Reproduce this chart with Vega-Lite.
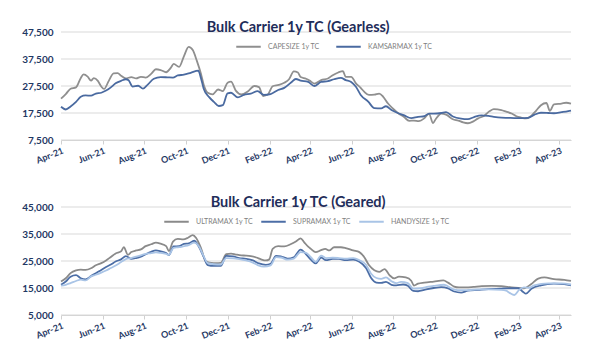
{
"$schema": "https://vega.github.io/schema/vega-lite/v6.json",
"background": "white",
"padding": {"left": 21, "top": 20, "right": 30, "bottom": 4},
"spacing": 29,
"config": {
 "font": "Lato",
 "view": {"stroke": null},
 "axis": {"labelFont": "Lato", "labelColor": "#1f3864", "labelFontWeight": "bold", "title": null},
 "axisY": {"domain": false, "ticks": false, "grid": false, "labelFontSize": 10, "labelPadding": 8},
 "axisX": {"grid": false, "domainColor": "#d0d0d0", "tickColor": "#d0d0d0", "tickSize": 4, "labelFontSize": 9, "labelAngle": -22, "labelPadding": 2},
 "title": {"font": "Lato", "fontSize": 14.5, "fontWeight": "bold", "color": "#1f2d5a", "anchor": "middle", "frame": "bounds", "offset": -8.5},
 "legend": {"orient": "none", "direction": "horizontal", "title": null, "symbolType": "stroke", "symbolSize": 600, "symbolStrokeWidth": 2, "labelFontSize": 7, "labelColor": "#7f7f7f", "labelFont": "Lato", "columnPadding": 12, "labelOffset": 6}
},
"resolve": {"scale": {"color": "independent"}, "legend": {"color": "independent"}},
"datasets": {
"gridTop": [{"value": 7500}, {"value": 17500}, {"value": 27500}, {"value": 37500}, {"value": 47500}],
"gridBottom": [{"value": 5000}, {"value": 15000}, {"value": 25000}, {"value": 35000}, {"value": 45000}],
"gearless": [
{"date":"2021-04-01","series":"CAPESIZE 1y TC","value":22800},
{"date":"2021-04-08","series":"CAPESIZE 1y TC","value":24500},
{"date":"2021-04-15","series":"CAPESIZE 1y TC","value":26500},
{"date":"2021-04-23","series":"CAPESIZE 1y TC","value":27000},
{"date":"2021-04-30","series":"CAPESIZE 1y TC","value":30500},
{"date":"2021-05-04","series":"CAPESIZE 1y TC","value":31800},
{"date":"2021-05-10","series":"CAPESIZE 1y TC","value":31000},
{"date":"2021-05-15","series":"CAPESIZE 1y TC","value":29500},
{"date":"2021-05-19","series":"CAPESIZE 1y TC","value":30400},
{"date":"2021-05-25","series":"CAPESIZE 1y TC","value":29400},
{"date":"2021-05-30","series":"CAPESIZE 1y TC","value":27300},
{"date":"2021-06-03","series":"CAPESIZE 1y TC","value":26400},
{"date":"2021-06-10","series":"CAPESIZE 1y TC","value":29400},
{"date":"2021-06-17","series":"CAPESIZE 1y TC","value":32200},
{"date":"2021-06-23","series":"CAPESIZE 1y TC","value":32300},
{"date":"2021-06-28","series":"CAPESIZE 1y TC","value":31300},
{"date":"2021-07-05","series":"CAPESIZE 1y TC","value":30300},
{"date":"2021-07-13","series":"CAPESIZE 1y TC","value":30800},
{"date":"2021-07-20","series":"CAPESIZE 1y TC","value":30300},
{"date":"2021-07-27","series":"CAPESIZE 1y TC","value":30900},
{"date":"2021-08-03","series":"CAPESIZE 1y TC","value":30600},
{"date":"2021-08-11","series":"CAPESIZE 1y TC","value":32000},
{"date":"2021-08-18","series":"CAPESIZE 1y TC","value":33700},
{"date":"2021-08-25","series":"CAPESIZE 1y TC","value":33400},
{"date":"2021-09-02","series":"CAPESIZE 1y TC","value":32600},
{"date":"2021-09-09","series":"CAPESIZE 1y TC","value":34300},
{"date":"2021-09-13","series":"CAPESIZE 1y TC","value":35700},
{"date":"2021-09-21","series":"CAPESIZE 1y TC","value":34600},
{"date":"2021-09-28","series":"CAPESIZE 1y TC","value":38500},
{"date":"2021-10-05","series":"CAPESIZE 1y TC","value":42000},
{"date":"2021-10-11","series":"CAPESIZE 1y TC","value":40800},
{"date":"2021-10-17","series":"CAPESIZE 1y TC","value":36800},
{"date":"2021-10-23","series":"CAPESIZE 1y TC","value":32000},
{"date":"2021-10-27","series":"CAPESIZE 1y TC","value":28000},
{"date":"2021-11-02","series":"CAPESIZE 1y TC","value":25000},
{"date":"2021-11-09","series":"CAPESIZE 1y TC","value":24400},
{"date":"2021-11-17","series":"CAPESIZE 1y TC","value":26200},
{"date":"2021-11-24","series":"CAPESIZE 1y TC","value":25600},
{"date":"2021-12-01","series":"CAPESIZE 1y TC","value":28700},
{"date":"2021-12-06","series":"CAPESIZE 1y TC","value":29100},
{"date":"2021-12-13","series":"CAPESIZE 1y TC","value":25800},
{"date":"2021-12-21","series":"CAPESIZE 1y TC","value":24400},
{"date":"2021-12-31","series":"CAPESIZE 1y TC","value":25600},
{"date":"2022-01-09","series":"CAPESIZE 1y TC","value":27500},
{"date":"2022-01-16","series":"CAPESIZE 1y TC","value":27100},
{"date":"2022-01-22","series":"CAPESIZE 1y TC","value":23800},
{"date":"2022-01-29","series":"CAPESIZE 1y TC","value":24400},
{"date":"2022-02-05","series":"CAPESIZE 1y TC","value":27400},
{"date":"2022-02-14","series":"CAPESIZE 1y TC","value":27900},
{"date":"2022-02-22","series":"CAPESIZE 1y TC","value":28700},
{"date":"2022-03-01","series":"CAPESIZE 1y TC","value":30000},
{"date":"2022-03-08","series":"CAPESIZE 1y TC","value":32900},
{"date":"2022-03-14","series":"CAPESIZE 1y TC","value":32500},
{"date":"2022-03-18","series":"CAPESIZE 1y TC","value":30800},
{"date":"2022-03-26","series":"CAPESIZE 1y TC","value":30200},
{"date":"2022-04-02","series":"CAPESIZE 1y TC","value":29200},
{"date":"2022-04-07","series":"CAPESIZE 1y TC","value":28400},
{"date":"2022-04-17","series":"CAPESIZE 1y TC","value":29700},
{"date":"2022-04-27","series":"CAPESIZE 1y TC","value":30300},
{"date":"2022-05-04","series":"CAPESIZE 1y TC","value":31500},
{"date":"2022-05-12","series":"CAPESIZE 1y TC","value":32500},
{"date":"2022-05-19","series":"CAPESIZE 1y TC","value":33000},
{"date":"2022-05-23","series":"CAPESIZE 1y TC","value":30900},
{"date":"2022-05-31","series":"CAPESIZE 1y TC","value":30900},
{"date":"2022-06-07","series":"CAPESIZE 1y TC","value":28500},
{"date":"2022-06-14","series":"CAPESIZE 1y TC","value":26800},
{"date":"2022-06-19","series":"CAPESIZE 1y TC","value":25400},
{"date":"2022-06-26","series":"CAPESIZE 1y TC","value":24200},
{"date":"2022-07-04","series":"CAPESIZE 1y TC","value":24300},
{"date":"2022-07-11","series":"CAPESIZE 1y TC","value":24700},
{"date":"2022-07-17","series":"CAPESIZE 1y TC","value":23500},
{"date":"2022-07-24","series":"CAPESIZE 1y TC","value":21000},
{"date":"2022-07-31","series":"CAPESIZE 1y TC","value":19200},
{"date":"2022-08-08","series":"CAPESIZE 1y TC","value":17400},
{"date":"2022-08-16","series":"CAPESIZE 1y TC","value":16100},
{"date":"2022-08-24","series":"CAPESIZE 1y TC","value":14600},
{"date":"2022-08-31","series":"CAPESIZE 1y TC","value":14700},
{"date":"2022-09-07","series":"CAPESIZE 1y TC","value":14500},
{"date":"2022-09-15","series":"CAPESIZE 1y TC","value":15500},
{"date":"2022-09-22","series":"CAPESIZE 1y TC","value":17200},
{"date":"2022-09-28","series":"CAPESIZE 1y TC","value":13800},
{"date":"2022-10-02","series":"CAPESIZE 1y TC","value":15300},
{"date":"2022-10-10","series":"CAPESIZE 1y TC","value":17300},
{"date":"2022-10-17","series":"CAPESIZE 1y TC","value":16900},
{"date":"2022-10-27","series":"CAPESIZE 1y TC","value":15200},
{"date":"2022-11-04","series":"CAPESIZE 1y TC","value":14700},
{"date":"2022-11-11","series":"CAPESIZE 1y TC","value":14000},
{"date":"2022-11-18","series":"CAPESIZE 1y TC","value":13700},
{"date":"2022-11-26","series":"CAPESIZE 1y TC","value":14400},
{"date":"2022-12-03","series":"CAPESIZE 1y TC","value":15500},
{"date":"2022-12-12","series":"CAPESIZE 1y TC","value":16500},
{"date":"2022-12-20","series":"CAPESIZE 1y TC","value":18200},
{"date":"2022-12-26","series":"CAPESIZE 1y TC","value":18900},
{"date":"2023-01-06","series":"CAPESIZE 1y TC","value":18600},
{"date":"2023-01-13","series":"CAPESIZE 1y TC","value":18000},
{"date":"2023-01-21","series":"CAPESIZE 1y TC","value":17300},
{"date":"2023-01-28","series":"CAPESIZE 1y TC","value":16300},
{"date":"2023-02-04","series":"CAPESIZE 1y TC","value":15800},
{"date":"2023-02-11","series":"CAPESIZE 1y TC","value":15500},
{"date":"2023-02-19","series":"CAPESIZE 1y TC","value":16500},
{"date":"2023-02-26","series":"CAPESIZE 1y TC","value":18400},
{"date":"2023-03-05","series":"CAPESIZE 1y TC","value":20400},
{"date":"2023-03-13","series":"CAPESIZE 1y TC","value":21200},
{"date":"2023-03-18","series":"CAPESIZE 1y TC","value":18300},
{"date":"2023-03-24","series":"CAPESIZE 1y TC","value":20700},
{"date":"2023-04-04","series":"CAPESIZE 1y TC","value":21000},
{"date":"2023-04-11","series":"CAPESIZE 1y TC","value":21300},
{"date":"2023-04-18","series":"CAPESIZE 1y TC","value":21000},
{"date":"2021-04-01","series":"KAMSARMAX 1y TC","value":19800},
{"date":"2021-04-08","series":"KAMSARMAX 1y TC","value":18800},
{"date":"2021-04-15","series":"KAMSARMAX 1y TC","value":19900},
{"date":"2021-04-23","series":"KAMSARMAX 1y TC","value":21600},
{"date":"2021-04-30","series":"KAMSARMAX 1y TC","value":23500},
{"date":"2021-05-07","series":"KAMSARMAX 1y TC","value":24000},
{"date":"2021-05-15","series":"KAMSARMAX 1y TC","value":23900},
{"date":"2021-05-22","series":"KAMSARMAX 1y TC","value":24700},
{"date":"2021-05-30","series":"KAMSARMAX 1y TC","value":25000},
{"date":"2021-06-06","series":"KAMSARMAX 1y TC","value":25800},
{"date":"2021-06-13","series":"KAMSARMAX 1y TC","value":27000},
{"date":"2021-06-20","series":"KAMSARMAX 1y TC","value":28500},
{"date":"2021-06-28","series":"KAMSARMAX 1y TC","value":29400},
{"date":"2021-07-05","series":"KAMSARMAX 1y TC","value":30000},
{"date":"2021-07-09","series":"KAMSARMAX 1y TC","value":29600},
{"date":"2021-07-15","series":"KAMSARMAX 1y TC","value":27300},
{"date":"2021-07-23","series":"KAMSARMAX 1y TC","value":27600},
{"date":"2021-07-30","series":"KAMSARMAX 1y TC","value":26500},
{"date":"2021-08-06","series":"KAMSARMAX 1y TC","value":28000},
{"date":"2021-08-15","series":"KAMSARMAX 1y TC","value":30200},
{"date":"2021-08-25","series":"KAMSARMAX 1y TC","value":30800},
{"date":"2021-09-04","series":"KAMSARMAX 1y TC","value":30700},
{"date":"2021-09-12","series":"KAMSARMAX 1y TC","value":30600},
{"date":"2021-09-19","series":"KAMSARMAX 1y TC","value":31400},
{"date":"2021-09-28","series":"KAMSARMAX 1y TC","value":31700},
{"date":"2021-10-08","series":"KAMSARMAX 1y TC","value":32400},
{"date":"2021-10-19","series":"KAMSARMAX 1y TC","value":33200},
{"date":"2021-10-23","series":"KAMSARMAX 1y TC","value":30400},
{"date":"2021-10-27","series":"KAMSARMAX 1y TC","value":26500},
{"date":"2021-11-04","series":"KAMSARMAX 1y TC","value":23400},
{"date":"2021-11-11","series":"KAMSARMAX 1y TC","value":21600},
{"date":"2021-11-18","series":"KAMSARMAX 1y TC","value":20100},
{"date":"2021-11-24","series":"KAMSARMAX 1y TC","value":20400},
{"date":"2021-12-01","series":"KAMSARMAX 1y TC","value":24800},
{"date":"2021-12-06","series":"KAMSARMAX 1y TC","value":25000},
{"date":"2021-12-16","series":"KAMSARMAX 1y TC","value":23300},
{"date":"2021-12-25","series":"KAMSARMAX 1y TC","value":24200},
{"date":"2022-01-04","series":"KAMSARMAX 1y TC","value":24700},
{"date":"2022-01-14","series":"KAMSARMAX 1y TC","value":25600},
{"date":"2022-01-23","series":"KAMSARMAX 1y TC","value":24200},
{"date":"2022-02-02","series":"KAMSARMAX 1y TC","value":24500},
{"date":"2022-02-13","series":"KAMSARMAX 1y TC","value":26000},
{"date":"2022-02-22","series":"KAMSARMAX 1y TC","value":26800},
{"date":"2022-03-04","series":"KAMSARMAX 1y TC","value":28800},
{"date":"2022-03-11","series":"KAMSARMAX 1y TC","value":30100},
{"date":"2022-03-18","series":"KAMSARMAX 1y TC","value":29500},
{"date":"2022-03-29","series":"KAMSARMAX 1y TC","value":29000},
{"date":"2022-04-07","series":"KAMSARMAX 1y TC","value":27500},
{"date":"2022-04-17","series":"KAMSARMAX 1y TC","value":29000},
{"date":"2022-04-27","series":"KAMSARMAX 1y TC","value":29300},
{"date":"2022-05-06","series":"KAMSARMAX 1y TC","value":30000},
{"date":"2022-05-16","series":"KAMSARMAX 1y TC","value":30500},
{"date":"2022-05-23","series":"KAMSARMAX 1y TC","value":29700},
{"date":"2022-05-31","series":"KAMSARMAX 1y TC","value":29000},
{"date":"2022-06-07","series":"KAMSARMAX 1y TC","value":27200},
{"date":"2022-06-14","series":"KAMSARMAX 1y TC","value":24200},
{"date":"2022-06-25","series":"KAMSARMAX 1y TC","value":21700},
{"date":"2022-07-04","series":"KAMSARMAX 1y TC","value":19300},
{"date":"2022-07-14","series":"KAMSARMAX 1y TC","value":19200},
{"date":"2022-07-21","series":"KAMSARMAX 1y TC","value":20000},
{"date":"2022-07-29","series":"KAMSARMAX 1y TC","value":18600},
{"date":"2022-08-08","series":"KAMSARMAX 1y TC","value":17400},
{"date":"2022-08-16","series":"KAMSARMAX 1y TC","value":16700},
{"date":"2022-08-27","series":"KAMSARMAX 1y TC","value":15600},
{"date":"2022-09-06","series":"KAMSARMAX 1y TC","value":16100},
{"date":"2022-09-15","series":"KAMSARMAX 1y TC","value":16300},
{"date":"2022-09-22","series":"KAMSARMAX 1y TC","value":17300},
{"date":"2022-09-29","series":"KAMSARMAX 1y TC","value":17300},
{"date":"2022-10-10","series":"KAMSARMAX 1y TC","value":17500},
{"date":"2022-10-17","series":"KAMSARMAX 1y TC","value":17800},
{"date":"2022-10-27","series":"KAMSARMAX 1y TC","value":16200},
{"date":"2022-11-08","series":"KAMSARMAX 1y TC","value":15400},
{"date":"2022-11-18","series":"KAMSARMAX 1y TC","value":15200},
{"date":"2022-11-27","series":"KAMSARMAX 1y TC","value":16000},
{"date":"2022-12-08","series":"KAMSARMAX 1y TC","value":16600},
{"date":"2022-12-18","series":"KAMSARMAX 1y TC","value":16400},
{"date":"2022-12-26","series":"KAMSARMAX 1y TC","value":16100},
{"date":"2023-01-06","series":"KAMSARMAX 1y TC","value":15800},
{"date":"2023-01-16","series":"KAMSARMAX 1y TC","value":15700},
{"date":"2023-01-25","series":"KAMSARMAX 1y TC","value":15600},
{"date":"2023-02-04","series":"KAMSARMAX 1y TC","value":15600},
{"date":"2023-02-14","series":"KAMSARMAX 1y TC","value":15700},
{"date":"2023-02-23","series":"KAMSARMAX 1y TC","value":16800},
{"date":"2023-03-05","series":"KAMSARMAX 1y TC","value":17600},
{"date":"2023-03-16","series":"KAMSARMAX 1y TC","value":17500},
{"date":"2023-03-24","series":"KAMSARMAX 1y TC","value":17400},
{"date":"2023-04-04","series":"KAMSARMAX 1y TC","value":17800},
{"date":"2023-04-14","series":"KAMSARMAX 1y TC","value":18200},
{"date":"2023-04-18","series":"KAMSARMAX 1y TC","value":18400}
],
"geared": [
{"date":"2021-04-01","series":"ULTRAMAX 1y TC","value":17400},
{"date":"2021-04-08","series":"ULTRAMAX 1y TC","value":18600},
{"date":"2021-04-15","series":"ULTRAMAX 1y TC","value":20500},
{"date":"2021-04-23","series":"ULTRAMAX 1y TC","value":21500},
{"date":"2021-04-30","series":"ULTRAMAX 1y TC","value":21800},
{"date":"2021-05-07","series":"ULTRAMAX 1y TC","value":21700},
{"date":"2021-05-15","series":"ULTRAMAX 1y TC","value":22300},
{"date":"2021-05-22","series":"ULTRAMAX 1y TC","value":23400},
{"date":"2021-05-30","series":"ULTRAMAX 1y TC","value":24200},
{"date":"2021-06-06","series":"ULTRAMAX 1y TC","value":25200},
{"date":"2021-06-13","series":"ULTRAMAX 1y TC","value":26500},
{"date":"2021-06-20","series":"ULTRAMAX 1y TC","value":27800},
{"date":"2021-06-28","series":"ULTRAMAX 1y TC","value":28600},
{"date":"2021-07-02","series":"ULTRAMAX 1y TC","value":30100},
{"date":"2021-07-08","series":"ULTRAMAX 1y TC","value":27300},
{"date":"2021-07-13","series":"ULTRAMAX 1y TC","value":28300},
{"date":"2021-07-20","series":"ULTRAMAX 1y TC","value":28900},
{"date":"2021-07-27","series":"ULTRAMAX 1y TC","value":29300},
{"date":"2021-08-03","series":"ULTRAMAX 1y TC","value":30500},
{"date":"2021-08-11","series":"ULTRAMAX 1y TC","value":31200},
{"date":"2021-08-18","series":"ULTRAMAX 1y TC","value":31800},
{"date":"2021-08-25","series":"ULTRAMAX 1y TC","value":31400},
{"date":"2021-09-02","series":"ULTRAMAX 1y TC","value":30500},
{"date":"2021-09-06","series":"ULTRAMAX 1y TC","value":28700},
{"date":"2021-09-12","series":"ULTRAMAX 1y TC","value":32200},
{"date":"2021-09-19","series":"ULTRAMAX 1y TC","value":33200},
{"date":"2021-09-27","series":"ULTRAMAX 1y TC","value":33000},
{"date":"2021-10-04","series":"ULTRAMAX 1y TC","value":33600},
{"date":"2021-10-11","series":"ULTRAMAX 1y TC","value":34600},
{"date":"2021-10-16","series":"ULTRAMAX 1y TC","value":33500},
{"date":"2021-10-23","series":"ULTRAMAX 1y TC","value":29800},
{"date":"2021-10-30","series":"ULTRAMAX 1y TC","value":25000},
{"date":"2021-11-07","series":"ULTRAMAX 1y TC","value":24300},
{"date":"2021-11-14","series":"ULTRAMAX 1y TC","value":24200},
{"date":"2021-11-21","series":"ULTRAMAX 1y TC","value":24300},
{"date":"2021-11-29","series":"ULTRAMAX 1y TC","value":27500},
{"date":"2021-12-06","series":"ULTRAMAX 1y TC","value":27700},
{"date":"2021-12-13","series":"ULTRAMAX 1y TC","value":27400},
{"date":"2021-12-21","series":"ULTRAMAX 1y TC","value":27100},
{"date":"2021-12-28","series":"ULTRAMAX 1y TC","value":27000},
{"date":"2022-01-04","series":"ULTRAMAX 1y TC","value":26800},
{"date":"2022-01-12","series":"ULTRAMAX 1y TC","value":26300},
{"date":"2022-01-19","series":"ULTRAMAX 1y TC","value":25600},
{"date":"2022-01-26","series":"ULTRAMAX 1y TC","value":25200},
{"date":"2022-01-31","series":"ULTRAMAX 1y TC","value":25600},
{"date":"2022-02-05","series":"ULTRAMAX 1y TC","value":29500},
{"date":"2022-02-13","series":"ULTRAMAX 1y TC","value":30500},
{"date":"2022-02-22","series":"ULTRAMAX 1y TC","value":30400},
{"date":"2022-03-04","series":"ULTRAMAX 1y TC","value":31300},
{"date":"2022-03-11","series":"ULTRAMAX 1y TC","value":32200},
{"date":"2022-03-18","series":"ULTRAMAX 1y TC","value":33400},
{"date":"2022-03-23","series":"ULTRAMAX 1y TC","value":32000},
{"date":"2022-03-29","series":"ULTRAMAX 1y TC","value":30300},
{"date":"2022-04-02","series":"ULTRAMAX 1y TC","value":29500},
{"date":"2022-04-09","series":"ULTRAMAX 1y TC","value":28300},
{"date":"2022-04-17","series":"ULTRAMAX 1y TC","value":29000},
{"date":"2022-04-23","series":"ULTRAMAX 1y TC","value":29500},
{"date":"2022-04-29","series":"ULTRAMAX 1y TC","value":28900},
{"date":"2022-05-06","series":"ULTRAMAX 1y TC","value":30100},
{"date":"2022-05-16","series":"ULTRAMAX 1y TC","value":30100},
{"date":"2022-05-23","series":"ULTRAMAX 1y TC","value":29800},
{"date":"2022-06-03","series":"ULTRAMAX 1y TC","value":28900},
{"date":"2022-06-12","series":"ULTRAMAX 1y TC","value":28300},
{"date":"2022-06-19","series":"ULTRAMAX 1y TC","value":26500},
{"date":"2022-06-26","series":"ULTRAMAX 1y TC","value":23500},
{"date":"2022-07-04","series":"ULTRAMAX 1y TC","value":21600},
{"date":"2022-07-11","series":"ULTRAMAX 1y TC","value":21000},
{"date":"2022-07-19","series":"ULTRAMAX 1y TC","value":22000},
{"date":"2022-07-26","series":"ULTRAMAX 1y TC","value":19800},
{"date":"2022-08-02","series":"ULTRAMAX 1y TC","value":18600},
{"date":"2022-08-09","series":"ULTRAMAX 1y TC","value":19200},
{"date":"2022-08-19","series":"ULTRAMAX 1y TC","value":18900},
{"date":"2022-08-27","series":"ULTRAMAX 1y TC","value":17700},
{"date":"2022-08-31","series":"ULTRAMAX 1y TC","value":15900},
{"date":"2022-09-06","series":"ULTRAMAX 1y TC","value":16600},
{"date":"2022-09-15","series":"ULTRAMAX 1y TC","value":17000},
{"date":"2022-09-29","series":"ULTRAMAX 1y TC","value":17400},
{"date":"2022-10-13","series":"ULTRAMAX 1y TC","value":17800},
{"date":"2022-10-20","series":"ULTRAMAX 1y TC","value":17000},
{"date":"2022-10-29","series":"ULTRAMAX 1y TC","value":15500},
{"date":"2022-11-05","series":"ULTRAMAX 1y TC","value":15200},
{"date":"2022-11-15","series":"ULTRAMAX 1y TC","value":15200},
{"date":"2022-11-26","series":"ULTRAMAX 1y TC","value":15400},
{"date":"2022-12-08","series":"ULTRAMAX 1y TC","value":15700},
{"date":"2022-12-23","series":"ULTRAMAX 1y TC","value":15800},
{"date":"2023-01-06","series":"ULTRAMAX 1y TC","value":15700},
{"date":"2023-01-21","series":"ULTRAMAX 1y TC","value":15200},
{"date":"2023-01-31","series":"ULTRAMAX 1y TC","value":15000},
{"date":"2023-02-08","series":"ULTRAMAX 1y TC","value":14900},
{"date":"2023-02-19","series":"ULTRAMAX 1y TC","value":16500},
{"date":"2023-03-01","series":"ULTRAMAX 1y TC","value":18500},
{"date":"2023-03-10","series":"ULTRAMAX 1y TC","value":18900},
{"date":"2023-03-24","series":"ULTRAMAX 1y TC","value":18300},
{"date":"2023-04-08","series":"ULTRAMAX 1y TC","value":18000},
{"date":"2023-04-18","series":"ULTRAMAX 1y TC","value":17600},
{"date":"2021-04-01","series":"SUPRAMAX 1y TC","value":16200},
{"date":"2021-04-08","series":"SUPRAMAX 1y TC","value":17400},
{"date":"2021-04-15","series":"SUPRAMAX 1y TC","value":19200},
{"date":"2021-04-23","series":"SUPRAMAX 1y TC","value":19800},
{"date":"2021-04-30","series":"SUPRAMAX 1y TC","value":18600},
{"date":"2021-05-07","series":"SUPRAMAX 1y TC","value":18200},
{"date":"2021-05-15","series":"SUPRAMAX 1y TC","value":19400},
{"date":"2021-05-22","series":"SUPRAMAX 1y TC","value":20500},
{"date":"2021-05-30","series":"SUPRAMAX 1y TC","value":21700},
{"date":"2021-06-06","series":"SUPRAMAX 1y TC","value":22800},
{"date":"2021-06-13","series":"SUPRAMAX 1y TC","value":23700},
{"date":"2021-06-20","series":"SUPRAMAX 1y TC","value":24800},
{"date":"2021-06-28","series":"SUPRAMAX 1y TC","value":25600},
{"date":"2021-07-05","series":"SUPRAMAX 1y TC","value":26800},
{"date":"2021-07-13","series":"SUPRAMAX 1y TC","value":25800},
{"date":"2021-07-20","series":"SUPRAMAX 1y TC","value":26100},
{"date":"2021-07-27","series":"SUPRAMAX 1y TC","value":26600},
{"date":"2021-08-03","series":"SUPRAMAX 1y TC","value":27500},
{"date":"2021-08-11","series":"SUPRAMAX 1y TC","value":28400},
{"date":"2021-08-18","series":"SUPRAMAX 1y TC","value":28900},
{"date":"2021-08-25","series":"SUPRAMAX 1y TC","value":28600},
{"date":"2021-09-02","series":"SUPRAMAX 1y TC","value":28000},
{"date":"2021-09-06","series":"SUPRAMAX 1y TC","value":27200},
{"date":"2021-09-13","series":"SUPRAMAX 1y TC","value":30400},
{"date":"2021-09-21","series":"SUPRAMAX 1y TC","value":30500},
{"date":"2021-09-28","series":"SUPRAMAX 1y TC","value":31300},
{"date":"2021-10-05","series":"SUPRAMAX 1y TC","value":31500},
{"date":"2021-10-13","series":"SUPRAMAX 1y TC","value":32500},
{"date":"2021-10-20","series":"SUPRAMAX 1y TC","value":30300},
{"date":"2021-10-27","series":"SUPRAMAX 1y TC","value":26500},
{"date":"2021-11-02","series":"SUPRAMAX 1y TC","value":23500},
{"date":"2021-11-11","series":"SUPRAMAX 1y TC","value":23200},
{"date":"2021-11-21","series":"SUPRAMAX 1y TC","value":23200},
{"date":"2021-11-29","series":"SUPRAMAX 1y TC","value":26900},
{"date":"2021-12-09","series":"SUPRAMAX 1y TC","value":26700},
{"date":"2021-12-18","series":"SUPRAMAX 1y TC","value":26100},
{"date":"2021-12-28","series":"SUPRAMAX 1y TC","value":25800},
{"date":"2022-01-07","series":"SUPRAMAX 1y TC","value":25200},
{"date":"2022-01-16","series":"SUPRAMAX 1y TC","value":24100},
{"date":"2022-01-26","series":"SUPRAMAX 1y TC","value":23600},
{"date":"2022-02-02","series":"SUPRAMAX 1y TC","value":24000},
{"date":"2022-02-10","series":"SUPRAMAX 1y TC","value":26900},
{"date":"2022-02-17","series":"SUPRAMAX 1y TC","value":26700},
{"date":"2022-02-27","series":"SUPRAMAX 1y TC","value":25900},
{"date":"2022-03-08","series":"SUPRAMAX 1y TC","value":26400},
{"date":"2022-03-18","series":"SUPRAMAX 1y TC","value":29200},
{"date":"2022-03-26","series":"SUPRAMAX 1y TC","value":27500},
{"date":"2022-04-02","series":"SUPRAMAX 1y TC","value":25500},
{"date":"2022-04-09","series":"SUPRAMAX 1y TC","value":24100},
{"date":"2022-04-17","series":"SUPRAMAX 1y TC","value":26300},
{"date":"2022-04-24","series":"SUPRAMAX 1y TC","value":25300},
{"date":"2022-05-04","series":"SUPRAMAX 1y TC","value":25800},
{"date":"2022-05-13","series":"SUPRAMAX 1y TC","value":25800},
{"date":"2022-05-23","series":"SUPRAMAX 1y TC","value":25300},
{"date":"2022-06-03","series":"SUPRAMAX 1y TC","value":25500},
{"date":"2022-06-12","series":"SUPRAMAX 1y TC","value":24700},
{"date":"2022-06-22","series":"SUPRAMAX 1y TC","value":22300},
{"date":"2022-06-29","series":"SUPRAMAX 1y TC","value":18800},
{"date":"2022-07-07","series":"SUPRAMAX 1y TC","value":17000},
{"date":"2022-07-14","series":"SUPRAMAX 1y TC","value":16900},
{"date":"2022-07-21","series":"SUPRAMAX 1y TC","value":17300},
{"date":"2022-07-29","series":"SUPRAMAX 1y TC","value":16200},
{"date":"2022-08-05","series":"SUPRAMAX 1y TC","value":16000},
{"date":"2022-08-15","series":"SUPRAMAX 1y TC","value":16300},
{"date":"2022-08-22","series":"SUPRAMAX 1y TC","value":15800},
{"date":"2022-08-30","series":"SUPRAMAX 1y TC","value":13900},
{"date":"2022-09-06","series":"SUPRAMAX 1y TC","value":13800},
{"date":"2022-09-15","series":"SUPRAMAX 1y TC","value":14300},
{"date":"2022-09-29","series":"SUPRAMAX 1y TC","value":15000},
{"date":"2022-10-10","series":"SUPRAMAX 1y TC","value":15300},
{"date":"2022-10-20","series":"SUPRAMAX 1y TC","value":14900},
{"date":"2022-10-29","series":"SUPRAMAX 1y TC","value":13700},
{"date":"2022-11-08","series":"SUPRAMAX 1y TC","value":13300},
{"date":"2022-11-18","series":"SUPRAMAX 1y TC","value":14000},
{"date":"2022-12-03","series":"SUPRAMAX 1y TC","value":14300},
{"date":"2022-12-18","series":"SUPRAMAX 1y TC","value":14600},
{"date":"2023-01-06","series":"SUPRAMAX 1y TC","value":14800},
{"date":"2023-01-21","series":"SUPRAMAX 1y TC","value":14900},
{"date":"2023-01-31","series":"SUPRAMAX 1y TC","value":14900},
{"date":"2023-02-07","series":"SUPRAMAX 1y TC","value":13500},
{"date":"2023-02-11","series":"SUPRAMAX 1y TC","value":12900},
{"date":"2023-02-19","series":"SUPRAMAX 1y TC","value":14700},
{"date":"2023-03-05","series":"SUPRAMAX 1y TC","value":16000},
{"date":"2023-03-24","series":"SUPRAMAX 1y TC","value":16600},
{"date":"2023-04-08","series":"SUPRAMAX 1y TC","value":16400},
{"date":"2023-04-18","series":"SUPRAMAX 1y TC","value":16000},
{"date":"2021-04-01","series":"HANDYSIZE 1y TC","value":15900},
{"date":"2021-04-08","series":"HANDYSIZE 1y TC","value":16200},
{"date":"2021-04-15","series":"HANDYSIZE 1y TC","value":16800},
{"date":"2021-04-23","series":"HANDYSIZE 1y TC","value":17600},
{"date":"2021-04-30","series":"HANDYSIZE 1y TC","value":18100},
{"date":"2021-05-07","series":"HANDYSIZE 1y TC","value":17800},
{"date":"2021-05-15","series":"HANDYSIZE 1y TC","value":19300},
{"date":"2021-05-22","series":"HANDYSIZE 1y TC","value":19900},
{"date":"2021-05-30","series":"HANDYSIZE 1y TC","value":20700},
{"date":"2021-06-06","series":"HANDYSIZE 1y TC","value":21500},
{"date":"2021-06-13","series":"HANDYSIZE 1y TC","value":22400},
{"date":"2021-06-20","series":"HANDYSIZE 1y TC","value":23300},
{"date":"2021-06-28","series":"HANDYSIZE 1y TC","value":24600},
{"date":"2021-07-05","series":"HANDYSIZE 1y TC","value":25700},
{"date":"2021-07-13","series":"HANDYSIZE 1y TC","value":26100},
{"date":"2021-07-23","series":"HANDYSIZE 1y TC","value":26800},
{"date":"2021-08-03","series":"HANDYSIZE 1y TC","value":27600},
{"date":"2021-08-11","series":"HANDYSIZE 1y TC","value":27900},
{"date":"2021-08-18","series":"HANDYSIZE 1y TC","value":28200},
{"date":"2021-08-25","series":"HANDYSIZE 1y TC","value":28000},
{"date":"2021-09-02","series":"HANDYSIZE 1y TC","value":27600},
{"date":"2021-09-06","series":"HANDYSIZE 1y TC","value":27300},
{"date":"2021-09-13","series":"HANDYSIZE 1y TC","value":29900},
{"date":"2021-09-21","series":"HANDYSIZE 1y TC","value":30100},
{"date":"2021-09-28","series":"HANDYSIZE 1y TC","value":30500},
{"date":"2021-10-05","series":"HANDYSIZE 1y TC","value":30900},
{"date":"2021-10-13","series":"HANDYSIZE 1y TC","value":31800},
{"date":"2021-10-20","series":"HANDYSIZE 1y TC","value":30500},
{"date":"2021-10-27","series":"HANDYSIZE 1y TC","value":26800},
{"date":"2021-11-02","series":"HANDYSIZE 1y TC","value":24200},
{"date":"2021-11-11","series":"HANDYSIZE 1y TC","value":23800},
{"date":"2021-11-21","series":"HANDYSIZE 1y TC","value":23700},
{"date":"2021-11-29","series":"HANDYSIZE 1y TC","value":26100},
{"date":"2021-12-09","series":"HANDYSIZE 1y TC","value":26000},
{"date":"2021-12-18","series":"HANDYSIZE 1y TC","value":25700},
{"date":"2021-12-28","series":"HANDYSIZE 1y TC","value":25200},
{"date":"2022-01-07","series":"HANDYSIZE 1y TC","value":24400},
{"date":"2022-01-14","series":"HANDYSIZE 1y TC","value":23500},
{"date":"2022-01-23","series":"HANDYSIZE 1y TC","value":22900},
{"date":"2022-02-02","series":"HANDYSIZE 1y TC","value":23400},
{"date":"2022-02-10","series":"HANDYSIZE 1y TC","value":26400},
{"date":"2022-02-17","series":"HANDYSIZE 1y TC","value":26300},
{"date":"2022-02-27","series":"HANDYSIZE 1y TC","value":25500},
{"date":"2022-03-08","series":"HANDYSIZE 1y TC","value":25900},
{"date":"2022-03-18","series":"HANDYSIZE 1y TC","value":28300},
{"date":"2022-03-26","series":"HANDYSIZE 1y TC","value":28000},
{"date":"2022-04-02","series":"HANDYSIZE 1y TC","value":26400},
{"date":"2022-04-09","series":"HANDYSIZE 1y TC","value":24700},
{"date":"2022-04-17","series":"HANDYSIZE 1y TC","value":27000},
{"date":"2022-04-24","series":"HANDYSIZE 1y TC","value":26100},
{"date":"2022-05-04","series":"HANDYSIZE 1y TC","value":26200},
{"date":"2022-05-13","series":"HANDYSIZE 1y TC","value":26100},
{"date":"2022-05-23","series":"HANDYSIZE 1y TC","value":25900},
{"date":"2022-06-03","series":"HANDYSIZE 1y TC","value":26100},
{"date":"2022-06-12","series":"HANDYSIZE 1y TC","value":25300},
{"date":"2022-06-22","series":"HANDYSIZE 1y TC","value":23500},
{"date":"2022-06-29","series":"HANDYSIZE 1y TC","value":20400},
{"date":"2022-07-07","series":"HANDYSIZE 1y TC","value":18700},
{"date":"2022-07-14","series":"HANDYSIZE 1y TC","value":18400},
{"date":"2022-07-21","series":"HANDYSIZE 1y TC","value":18900},
{"date":"2022-07-29","series":"HANDYSIZE 1y TC","value":17500},
{"date":"2022-08-05","series":"HANDYSIZE 1y TC","value":16800},
{"date":"2022-08-12","series":"HANDYSIZE 1y TC","value":17300},
{"date":"2022-08-22","series":"HANDYSIZE 1y TC","value":16800},
{"date":"2022-08-30","series":"HANDYSIZE 1y TC","value":14800},
{"date":"2022-09-10","series":"HANDYSIZE 1y TC","value":14900},
{"date":"2022-09-21","series":"HANDYSIZE 1y TC","value":15500},
{"date":"2022-09-29","series":"HANDYSIZE 1y TC","value":15800},
{"date":"2022-10-14","series":"HANDYSIZE 1y TC","value":16200},
{"date":"2022-10-29","series":"HANDYSIZE 1y TC","value":14400},
{"date":"2022-11-08","series":"HANDYSIZE 1y TC","value":14200},
{"date":"2022-11-18","series":"HANDYSIZE 1y TC","value":14200},
{"date":"2022-12-03","series":"HANDYSIZE 1y TC","value":14500},
{"date":"2022-12-18","series":"HANDYSIZE 1y TC","value":14500},
{"date":"2023-01-06","series":"HANDYSIZE 1y TC","value":14300},
{"date":"2023-01-13","series":"HANDYSIZE 1y TC","value":14000},
{"date":"2023-01-18","series":"HANDYSIZE 1y TC","value":13200},
{"date":"2023-01-25","series":"HANDYSIZE 1y TC","value":12400},
{"date":"2023-02-01","series":"HANDYSIZE 1y TC","value":14300},
{"date":"2023-02-08","series":"HANDYSIZE 1y TC","value":15200},
{"date":"2023-02-16","series":"HANDYSIZE 1y TC","value":15100},
{"date":"2023-02-23","series":"HANDYSIZE 1y TC","value":16000},
{"date":"2023-03-16","series":"HANDYSIZE 1y TC","value":16700},
{"date":"2023-04-04","series":"HANDYSIZE 1y TC","value":16700},
{"date":"2023-04-18","series":"HANDYSIZE 1y TC","value":16300}
]
},
"vconcat": [
{
 "title": "Bulk Carrier 1y TC (Gearless)",
 "width": 510, "height": 108,
 "layer": [
  {
   "data": {"name": "gridTop"},
   "mark": {"type": "tick", "orient": "horizontal", "size": 510, "thickness": 1, "color": "#d9d9d9", "opacity": 1},
   "encoding": {"y": {"field": "value", "type": "quantitative", "scale": {"domain": [7500, 47500], "nice": false, "zero": false}, "axis": {"values": [7500, 17500, 27500, 37500, 47500], "format": ",.0f"}}}
  },
  {
   "data": {"name": "gearless"},
   "mark": {"type": "line", "strokeWidth": 1.8, "interpolate": "monotone"},
   "encoding": {
    "x": {"field": "date", "type": "temporal",
     "scale": {"domain": [{"year": 2021, "month": 4, "date": 1}, {"year": 2023, "month": 4, "date": 18}]},
     "axis": {"format": "%b-%y", "values": [{"year":2021,"month":4,"date":1},{"year":2021,"month":6,"date":1},{"year":2021,"month":8,"date":1},{"year":2021,"month":10,"date":1},{"year":2021,"month":12,"date":1},{"year":2022,"month":2,"date":1},{"year":2022,"month":4,"date":1},{"year":2022,"month":6,"date":1},{"year":2022,"month":8,"date":1},{"year":2022,"month":10,"date":1},{"year":2022,"month":12,"date":1},{"year":2023,"month":2,"date":1},{"year":2023,"month":4,"date":1}]}},
    "y": {"field": "value", "type": "quantitative", "scale": {"domain": [7500, 47500], "nice": false, "zero": false}, "axis": {"values": [7500, 17500, 27500, 37500, 47500], "format": ",.0f"}},
    "color": {"field": "series", "type": "nominal", "scale": {"domain": ["CAPESIZE 1y TC", "KAMSARMAX 1y TC"], "range": ["#8f8f8f", "#4a6aa0"]}, "legend": {"legendX": 174, "legendY": 1}}
   }
  }
 ]
},
{
 "title": "Bulk Carrier 1y TC (Geared)",
 "width": 510, "height": 108,
 "layer": [
  {
   "data": {"name": "gridBottom"},
   "mark": {"type": "tick", "orient": "horizontal", "size": 510, "thickness": 1, "color": "#d9d9d9", "opacity": 1},
   "encoding": {"y": {"field": "value", "type": "quantitative", "scale": {"domain": [5000, 45000], "nice": false, "zero": false}, "axis": {"values": [5000, 15000, 25000, 35000, 45000], "format": ",.0f"}}}
  },
  {
   "data": {"name": "geared"},
   "mark": {"type": "line", "strokeWidth": 1.8, "interpolate": "monotone"},
   "encoding": {
    "x": {"field": "date", "type": "temporal",
     "scale": {"domain": [{"year": 2021, "month": 4, "date": 1}, {"year": 2023, "month": 4, "date": 18}]},
     "axis": {"format": "%b-%y", "values": [{"year":2021,"month":4,"date":1},{"year":2021,"month":6,"date":1},{"year":2021,"month":8,"date":1},{"year":2021,"month":10,"date":1},{"year":2021,"month":12,"date":1},{"year":2022,"month":2,"date":1},{"year":2022,"month":4,"date":1},{"year":2022,"month":6,"date":1},{"year":2022,"month":8,"date":1},{"year":2022,"month":10,"date":1},{"year":2022,"month":12,"date":1},{"year":2023,"month":2,"date":1},{"year":2023,"month":4,"date":1}]}},
    "y": {"field": "value", "type": "quantitative", "scale": {"domain": [5000, 45000], "nice": false, "zero": false}, "axis": {"values": [5000, 15000, 25000, 35000, 45000], "format": ",.0f"}},
    "color": {"field": "series", "type": "nominal", "scale": {"domain": ["ULTRAMAX 1y TC", "SUPRAMAX 1y TC", "HANDYSIZE 1y TC"], "range": ["#8a8a8a", "#4c6ea6", "#a9c4e6"]}, "legend": {"legendX": 102, "legendY": 1, "columnPadding": 4}}
   }
  }
 ]
}
]
}
